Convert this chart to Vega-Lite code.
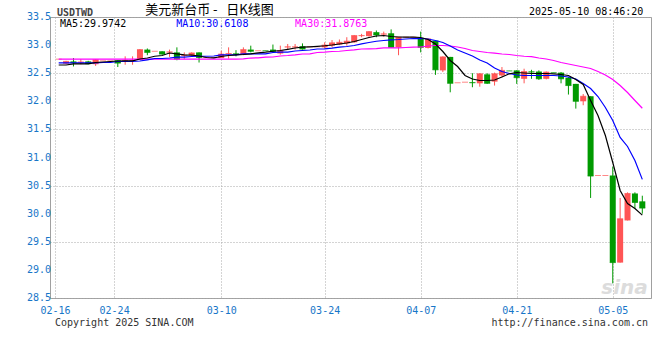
{
"$schema":"https://vega.github.io/schema/vega-lite/v6.json",
"width":601,"height":281,
"autosize":{"type":"none"},
"padding":{"left":50,"top":17,"right":9,"bottom":62},
"background":"white",
"config":{"view":{"stroke":"#a0a0a0","strokeWidth":1},"text":{"font":"DejaVu Sans Mono","fontSize":10},
 "axis":{"labelOverlap":false,"labelFlush":false,"labelBound":false}},
"datasets":{"k":[
{"i":0,"o":32.75,"c":32.75,"h":32.75,"l":32.75,"ma5":32.646,"ma10":32.685,"ma30":32.749},
{"i":1,"o":32.67,"c":32.71,"h":32.72,"l":32.66,"ma5":32.646,"ma10":32.685,"ma30":32.749},
{"i":2,"o":32.71,"c":32.69,"h":32.77,"l":32.62,"ma5":32.667,"ma10":32.685,"ma30":32.749},
{"i":3,"o":32.69,"c":32.70,"h":32.75,"l":32.66,"ma5":32.667,"ma10":32.685,"ma30":32.749},
{"i":4,"o":32.71,"c":32.67,"h":32.72,"l":32.66,"ma5":32.667,"ma10":32.685,"ma30":32.749},
{"i":5,"o":32.66,"c":32.74,"h":32.75,"l":32.63,"ma5":32.690,"ma10":32.685,"ma30":32.749},
{"i":6,"o":32.72,"c":32.72,"h":32.72,"l":32.72,"ma5":32.699,"ma10":32.690,"ma30":32.749},
{"i":7,"o":32.72,"c":32.72,"h":32.72,"l":32.72,"ma5":32.708,"ma10":32.690,"ma30":32.749},
{"i":8,"o":32.73,"c":32.68,"h":32.73,"l":32.61,"ma5":32.717,"ma10":32.708,"ma30":32.749},
{"i":9,"o":32.72,"c":32.73,"h":32.80,"l":32.65,"ma5":32.721,"ma10":32.708,"ma30":32.749},
{"i":10,"o":32.72,"c":32.73,"h":32.80,"l":32.65,"ma5":32.721,"ma10":32.708,"ma30":32.749},
{"i":11,"o":32.74,"c":32.92,"h":32.93,"l":32.73,"ma5":32.753,"ma10":32.717,"ma30":32.749},
{"i":12,"o":32.92,"c":32.87,"h":32.94,"l":32.82,"ma5":32.770,"ma10":32.738,"ma30":32.749},
{"i":13,"o":32.89,"c":32.89,"h":32.89,"l":32.89,"ma5":32.802,"ma10":32.762,"ma30":32.749},
{"i":14,"o":32.89,"c":32.84,"h":32.89,"l":32.83,"ma5":32.815,"ma10":32.762,"ma30":32.749},
{"i":15,"o":32.87,"c":32.88,"h":32.92,"l":32.79,"ma5":32.859,"ma10":32.770,"ma30":32.749},
{"i":16,"o":32.87,"c":32.75,"h":32.96,"l":32.73,"ma5":32.845,"ma10":32.785,"ma30":32.749},
{"i":17,"o":32.81,"c":32.82,"h":32.87,"l":32.75,"ma5":32.827,"ma10":32.785,"ma30":32.749},
{"i":18,"o":32.82,"c":32.86,"h":32.87,"l":32.81,"ma5":32.820,"ma10":32.797,"ma30":32.749},
{"i":19,"o":32.87,"c":32.78,"h":32.87,"l":32.69,"ma5":32.806,"ma10":32.802,"ma30":32.749},
{"i":20,"o":32.78,"c":32.78,"h":32.78,"l":32.78,"ma5":32.779,"ma10":32.802,"ma30":32.749},
{"i":21,"o":32.78,"c":32.78,"h":32.78,"l":32.78,"ma5":32.774,"ma10":32.806,"ma30":32.749},
{"i":22,"o":32.77,"c":32.84,"h":32.90,"l":32.77,"ma5":32.797,"ma10":32.827,"ma30":32.749},
{"i":23,"o":32.84,"c":32.85,"h":32.96,"l":32.76,"ma5":32.815,"ma10":32.827,"ma30":32.749},
{"i":24,"o":32.85,"c":32.84,"h":32.91,"l":32.80,"ma5":32.827,"ma10":32.827,"ma30":32.749},
{"i":25,"o":32.83,"c":32.92,"h":32.96,"l":32.82,"ma5":32.833,"ma10":32.845,"ma30":32.755},
{"i":26,"o":32.92,"c":32.89,"h":32.99,"l":32.87,"ma5":32.845,"ma10":32.845,"ma30":32.770},
{"i":27,"o":32.90,"c":32.90,"h":32.90,"l":32.90,"ma5":32.863,"ma10":32.845,"ma30":32.774},
{"i":28,"o":32.902,"c":32.90,"h":32.902,"l":32.90,"ma5":32.874,"ma10":32.845,"ma30":32.785},
{"i":29,"o":32.92,"c":32.89,"h":33.01,"l":32.87,"ma5":32.891,"ma10":32.868,"ma30":32.788},
{"i":30,"o":32.85,"c":32.90,"h":32.99,"l":32.83,"ma5":32.904,"ma10":32.874,"ma30":32.806},
{"i":31,"o":32.96,"c":32.97,"h":33.02,"l":32.92,"ma5":32.925,"ma10":32.874,"ma30":32.815},
{"i":32,"o":32.96,"c":32.97,"h":33.02,"l":32.92,"ma5":32.948,"ma10":32.895,"ma30":32.827},
{"i":33,"o":32.98,"c":32.93,"h":33.03,"l":32.92,"ma5":32.963,"ma10":32.904,"ma30":32.842},
{"i":34,"o":32.97,"c":32.97,"h":32.97,"l":32.97,"ma5":32.970,"ma10":32.913,"ma30":32.845},
{"i":35,"o":32.97,"c":32.97,"h":32.97,"l":32.97,"ma5":32.979,"ma10":32.931,"ma30":32.868},
{"i":36,"o":32.96,"c":33.00,"h":33.05,"l":32.94,"ma5":32.988,"ma10":32.934,"ma30":32.874},
{"i":37,"o":32.99,"c":33.04,"h":33.09,"l":32.96,"ma5":33.002,"ma10":32.945,"ma30":32.886},
{"i":38,"o":33.01,"c":33.05,"h":33.10,"l":33.00,"ma5":33.020,"ma10":32.963,"ma30":32.891},
{"i":39,"o":33.03,"c":33.07,"h":33.14,"l":32.99,"ma5":33.037,"ma10":32.975,"ma30":32.904},
{"i":40,"o":33.05,"c":33.17,"h":33.18,"l":33.04,"ma5":33.064,"ma10":32.993,"ma30":32.916},
{"i":41,"o":33.16,"c":33.17,"h":33.20,"l":33.14,"ma5":33.100,"ma10":33.023,"ma30":32.931},
{"i":42,"o":33.16,"c":33.24,"h":33.25,"l":33.15,"ma5":33.135,"ma10":33.046,"ma30":32.934},
{"i":43,"o":33.23,"c":33.18,"h":33.26,"l":33.14,"ma5":33.162,"ma10":33.069,"ma30":32.939},
{"i":44,"o":33.19,"c":33.20,"h":33.24,"l":33.15,"ma5":33.171,"ma10":33.082,"ma30":32.952},
{"i":45,"o":33.21,"c":32.96,"h":33.28,"l":32.96,"ma5":33.153,"ma10":33.094,"ma30":32.952},
{"i":46,"o":32.96,"c":33.14,"h":33.14,"l":32.82,"ma5":33.144,"ma10":33.100,"ma30":32.952},
{"i":47,"o":33.14,"c":33.14,"h":33.14,"l":33.14,"ma5":33.141,"ma10":33.109,"ma30":32.957},
{"i":48,"o":33.14,"c":33.14,"h":33.14,"l":33.14,"ma5":33.141,"ma10":33.117,"ma30":32.963},
{"i":49,"o":33.13,"c":32.96,"h":33.24,"l":32.87,"ma5":33.135,"ma10":33.117,"ma30":32.966},
{"i":50,"o":32.95,"c":33.11,"h":33.12,"l":32.94,"ma5":33.100,"ma10":33.109,"ma30":32.984},
{"i":51,"o":33.08,"c":32.56,"h":33.09,"l":32.47,"ma5":33.020,"ma10":33.082,"ma30":32.993},
{"i":52,"o":32.55,"c":32.79,"h":32.80,"l":32.52,"ma5":32.886,"ma10":33.046,"ma30":32.993},
{"i":53,"o":32.79,"c":32.32,"h":32.79,"l":32.16,"ma5":32.726,"ma10":32.984,"ma30":32.984},
{"i":54,"o":32.33,"c":32.33,"h":32.33,"l":32.33,"ma5":32.619,"ma10":32.913,"ma30":32.966},
{"i":55,"o":32.34,"c":32.34,"h":32.34,"l":32.34,"ma5":32.459,"ma10":32.859,"ma30":32.939},
{"i":56,"o":32.34,"c":32.33,"h":32.50,"l":32.25,"ma5":32.397,"ma10":32.806,"ma30":32.904},
{"i":57,"o":32.32,"c":32.49,"h":32.50,"l":32.26,"ma5":32.370,"ma10":32.735,"ma30":32.886},
{"i":58,"o":32.48,"c":32.32,"h":32.50,"l":32.31,"ma5":32.370,"ma10":32.681,"ma30":32.868},
{"i":59,"o":32.35,"c":32.49,"h":32.51,"l":32.28,"ma5":32.379,"ma10":32.593,"ma30":32.856},
{"i":60,"o":32.46,"c":32.55,"h":32.61,"l":32.43,"ma5":32.432,"ma10":32.530,"ma30":32.842},
{"i":61,"o":32.542,"c":32.54,"h":32.542,"l":32.54,"ma5":32.489,"ma10":32.495,"ma30":32.833},
{"i":62,"o":32.55,"c":32.42,"h":32.55,"l":32.31,"ma5":32.512,"ma10":32.468,"ma30":32.815},
{"i":63,"o":32.40,"c":32.53,"h":32.58,"l":32.32,"ma5":32.504,"ma10":32.459,"ma30":32.802},
{"i":64,"o":32.53,"c":32.52,"h":32.56,"l":32.40,"ma5":32.495,"ma10":32.459,"ma30":32.794},
{"i":65,"o":32.53,"c":32.40,"h":32.55,"l":32.38,"ma5":32.495,"ma10":32.459,"ma30":32.770},
{"i":66,"o":32.40,"c":32.52,"h":32.53,"l":32.39,"ma5":32.495,"ma10":32.459,"ma30":32.753},
{"i":67,"o":32.512,"c":32.51,"h":32.512,"l":32.51,"ma5":32.489,"ma10":32.459,"ma30":32.726},
{"i":68,"o":32.51,"c":32.40,"h":32.52,"l":32.32,"ma5":32.477,"ma10":32.450,"ma30":32.690},
{"i":69,"o":32.42,"c":32.28,"h":32.43,"l":32.12,"ma5":32.459,"ma10":32.432,"ma30":32.664},
{"i":70,"o":32.31,"c":32.00,"h":32.31,"l":31.87,"ma5":32.388,"ma10":32.397,"ma30":32.637},
{"i":71,"o":32.00,"c":32.09,"h":32.13,"l":31.93,"ma5":32.299,"ma10":32.317,"ma30":32.610},
{"i":72,"o":32.09,"c":30.67,"h":32.09,"l":30.28,"ma5":32.014,"ma10":32.228,"ma30":32.584},
{"i":73,"o":30.68,"c":30.68,"h":30.68,"l":30.68,"ma5":31.747,"ma10":32.085,"ma30":32.530},
{"i":74,"o":30.68,"c":30.68,"h":30.68,"l":30.68,"ma5":31.391,"ma10":31.890,"ma30":32.468},
{"i":75,"o":30.68,"c":29.13,"h":30.84,"l":28.76,"ma5":30.911,"ma10":31.658,"ma30":32.388},
{"i":76,"o":29.13,"c":29.91,"h":30.28,"l":29.13,"ma5":30.413,"ma10":31.356,"ma30":32.281},
{"i":77,"o":29.88,"c":30.36,"h":30.38,"l":29.88,"ma5":30.181,"ma10":31.196,"ma30":32.157},
{"i":78,"o":30.36,"c":30.20,"h":30.38,"l":30.09,"ma5":30.092,"ma10":30.947,"ma30":32.014},
{"i":79,"o":30.22,"c":30.10,"h":30.32,"l":30.00,"ma5":29.974,"ma10":30.611,"ma30":31.876}
],
"yt":[{"v":28.5},{"v":29.0},{"v":29.5},{"v":30.0},{"v":30.5},{"v":31.0},{"v":31.5},{"v":32.0},{"v":32.5},{"v":33.0},{"v":33.5}]},
"layer":[
{"data":{"values":[{}]},
 "mark":{"type":"text","text":"sina","fontSize":20,"fontStyle":"italic","fontWeight":"bold","font":"DejaVu Sans","color":"#dcdcdc","align":"center","baseline":"alphabetic"},
 "encoding":{"x":{"datum":76.6,"type":"quantitative"},"y":{"datum":28.58,"type":"quantitative"}}},
{"data":{"name":"yt"},
 "mark":{"type":"text","color":"#1776c8","font":"DejaVu Sans Mono","fontSize":10,"align":"right","baseline":"middle","dx":-4},
 "encoding":{"x":{"datum":-0.5,"type":"quantitative"},"y":{"field":"v","type":"quantitative"},
  "text":{"field":"v","type":"quantitative","format":".1f"}}},
{"data":{"name":"k"},
 "mark":{"type":"rule","strokeWidth":1},
 "encoding":{
  "x":{"field":"i","type":"quantitative","scale":{"domain":[-0.5,79.5],"nice":false,"zero":false},
   "axis":{"title":null,"values":[-0.5,7.5,22,36,49,62,75],
    "labelExpr":"datum.value < 0 ? '02-16' : datum.value < 10 ? '02-24' : datum.value < 30 ? '03-10' : datum.value < 40 ? '03-24' : datum.value < 55 ? '04-07' : datum.value < 70 ? '04-21' : '05-05'",
    "labelColor":"#1776c8","labelFont":"DejaVu Sans Mono","labelFontSize":10,"ticks":false,"domain":false,"labelPadding":7,
    "labelOverlap":false,"labelFlush":false,"grid":true,"gridColor":"#a8a8a8","gridDash":[1,2],"gridWidth":1}},
  "y":{"field":"l","type":"quantitative","scale":{"domain":[28.5,33.5],"nice":false,"zero":false},
   "axis":{"title":null,"values":[28.5,29,29.5,30,30.5,31,31.5,32,32.5,33,33.5],"labels":false,
    "ticks":false,"domain":false,
    "grid":true,"gridColor":"#a8a8a8","gridDash":[1,2],"gridWidth":1}},
  "y2":{"field":"h"},
  "color":{"condition":{"test":"datum.c >= datum.o","value":"#ff5555"},"value":"#009a00"}}},
{"data":{"name":"k"},
 "mark":{"type":"bar","size":6,"orient":"vertical"},
 "encoding":{
  "x":{"field":"i","type":"quantitative"},
  "y":{"field":"o","type":"quantitative"},
  "y2":{"field":"c"},
  "color":{"condition":{"test":"datum.c >= datum.o","value":"#ff5555"},"value":"#009a00"}}},
{"data":{"name":"k"},
 "mark":{"type":"tick","orient":"horizontal","size":6,"thickness":1},
 "encoding":{
  "x":{"field":"i","type":"quantitative"},
  "y":{"field":"c","type":"quantitative"},
  "color":{"condition":{"test":"datum.c >= datum.o","value":"#ff5555"},"value":"#009a00"}}},
{"data":{"name":"k"},
 "mark":{"type":"line","color":"#ff00ff","strokeWidth":1.2},
 "encoding":{"x":{"field":"i","type":"quantitative"},"y":{"field":"ma30","type":"quantitative"}}},
{"data":{"name":"k"},
 "mark":{"type":"line","color":"#0000ff","strokeWidth":1.2},
 "encoding":{"x":{"field":"i","type":"quantitative"},"y":{"field":"ma10","type":"quantitative"}}},
{"data":{"name":"k"},
 "mark":{"type":"line","color":"#000000","strokeWidth":1.2},
 "encoding":{"x":{"field":"i","type":"quantitative"},"y":{"field":"ma5","type":"quantitative"}}},
{"data":{"values":[{}]},
 "mark":{"type":"text","text":"MA5:29.9742","color":"#000000","align":"left","baseline":"middle","dy":7},
 "encoding":{"x":{"datum":0.17,"type":"quantitative"},"y":{"datum":33.5,"type":"quantitative"}}},
{"data":{"values":[{}]},
 "mark":{"type":"text","text":"MA10:30.6108","color":"#0000ff","align":"left","baseline":"middle","dy":7},
 "encoding":{"x":{"datum":15.9,"type":"quantitative"},"y":{"datum":33.5,"type":"quantitative"}}},
{"data":{"values":[{}]},
 "mark":{"type":"text","text":"MA30:31.8763","color":"#ff00ff","align":"left","baseline":"middle","dy":7},
 "encoding":{"x":{"datum":32.0,"type":"quantitative"},"y":{"datum":33.5,"type":"quantitative"}}},
{"data":{"values":[{}]},
 "mark":{"type":"text","text":"USDTWD","color":"#444444","fontWeight":"bold","align":"left","baseline":"alphabetic","dy":-1,"dx":2},
 "encoding":{"x":{"datum":-0.5,"type":"quantitative"},"y":{"datum":33.5,"type":"quantitative"}}},
{"data":{"values":[{}]},
 "mark":{"type":"text","text":"美元新台币\u00a0-\u00a0\u00a0\u00a0日K线图","font":"Noto Sans CJK SC","fontSize":13,"color":"#000000","align":"left","baseline":"alphabetic","dy":-3},
 "encoding":{"x":{"datum":11.7,"type":"quantitative"},"y":{"datum":33.5,"type":"quantitative"}}},
{"data":{"values":[{}]},
 "mark":{"type":"text","text":"2025-05-10 08:46:20","color":"#000000","align":"right","baseline":"alphabetic","dy":-2},
 "encoding":{"x":{"datum":79.14,"type":"quantitative"},"y":{"datum":33.5,"type":"quantitative"}}},
{"data":{"values":[{}]},
 "mark":{"type":"text","text":"Copyright 2025 SINA.COM","color":"#333333","align":"left","baseline":"middle","dy":25},
 "encoding":{"x":{"datum":-0.5,"type":"quantitative"},"y":{"datum":28.5,"type":"quantitative"}}},
{"data":{"values":[{}]},
 "mark":{"type":"text","text":"http://finance.sina.com.cn","color":"#333333","align":"right","baseline":"middle","dy":25,"dx":2},
 "encoding":{"x":{"datum":79.5,"type":"quantitative"},"y":{"datum":28.5,"type":"quantitative"}}}
]
}
